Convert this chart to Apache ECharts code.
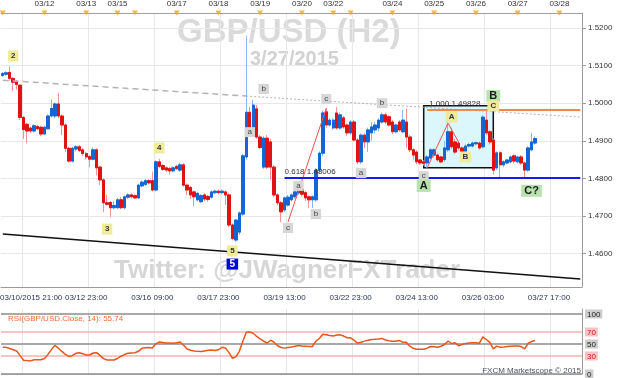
<!DOCTYPE html>
<html>
<head>
<meta charset="utf-8">
<title>GBP/USD H2</title>
<script src="https://cdn.jsdelivr.net/npm/echarts@6/dist/echarts.min.js"></script>
<style>
  html, body { margin: 0; padding: 0; background: #fff; }
  #chart { width: 623px; height: 378px; }
</style>
</head>
<body>
<div id="chart"></div>
<script>
// H2 candles, [open, close, low, high]
const candles = [
  [1.5074,1.5079,1.5070,1.5083],[1.5077,1.5081,1.5073,1.5085],[1.5082,1.5066,1.5060,1.5098],[1.5066,1.5056,1.5032,1.5070],
  [1.5058,1.5050,1.5036,1.5062],[1.5048,1.4962,1.4955,1.5050],[1.4962,1.4930,1.4905,1.4966],[1.4944,1.4926,1.4893,1.4948],
  [1.4934,1.4926,1.4920,1.4938],[1.4926,1.4940,1.4922,1.4944],[1.4938,1.4932,1.4928,1.4942],[1.4936,1.4918,1.4912,1.4940],
  [1.4918,1.4936,1.4915,1.4940],[1.4932,1.4966,1.4930,1.4970],[1.4966,1.4986,1.4962,1.5010],[1.4966,1.4998,1.4960,1.5002],
  [1.4998,1.4966,1.4960,1.5027],[1.4966,1.4942,1.4915,1.4970],[1.4942,1.4880,1.4870,1.4946],[1.4880,1.4846,1.4842,1.4884],
  [1.4846,1.4880,1.4842,1.4884],[1.4878,1.4884,1.4872,1.4888],[1.4884,1.4874,1.4870,1.4888],[1.4876,1.4866,1.4860,1.4880],
  [1.4866,1.4857,1.4850,1.4870],[1.4858,1.4851,1.4830,1.4862],[1.4851,1.4876,1.4848,1.4882],[1.4876,1.4828,1.4808,1.4880],
  [1.4830,1.4796,1.4782,1.4834],[1.4796,1.4735,1.4710,1.4800],[1.4735,1.4731,1.4728,1.4756],[1.4736,1.4722,1.4697,1.4740],
  [1.4722,1.4728,1.4718,1.4740],[1.4722,1.4743,1.4718,1.4748],[1.4743,1.4722,1.4718,1.4750],[1.4722,1.4751,1.4718,1.4755],
  [1.4750,1.4756,1.4745,1.4760],[1.4756,1.4751,1.4746,1.4760],[1.4754,1.4748,1.4745,1.4758],[1.4748,1.4782,1.4745,1.4786],
  [1.4780,1.4790,1.4776,1.4795],[1.4784,1.4794,1.4780,1.4798],[1.4794,1.4788,1.4784,1.4798],[1.4794,1.4769,1.4765,1.4818],
  [1.4769,1.4844,1.4765,1.4848],[1.4844,1.4832,1.4828,1.4852],[1.4834,1.4824,1.4820,1.4838],[1.4828,1.4822,1.4818,1.4832],
  [1.4826,1.4820,1.4810,1.4830],[1.4820,1.4828,1.4816,1.4832],[1.4832,1.4826,1.4822,1.4836],[1.4822,1.4836,1.4818,1.4842],
  [1.4836,1.4782,1.4778,1.4840],[1.4782,1.4769,1.4755,1.4786],[1.4776,1.4756,1.4745,1.4780],[1.4764,1.4751,1.4725,1.4768],
  [1.4743,1.4760,1.4738,1.4764],[1.4738,1.4754,1.4734,1.4758],[1.4756,1.4745,1.4740,1.4760],[1.4752,1.4744,1.4738,1.4756],
  [1.4750,1.4764,1.4746,1.4768],[1.4762,1.4766,1.4758,1.4770],[1.4766,1.4762,1.4758,1.4770],[1.4762,1.4766,1.4758,1.4770],
  [1.4764,1.4756,1.4729,1.4768],[1.4756,1.4676,1.4670,1.4760],[1.4676,1.4640,1.4635,1.4680],[1.4636,1.4689,1.4631,1.4692],
  [1.4657,1.4708,1.4650,1.4712],[1.4705,1.4860,1.4700,1.4865],[1.4857,1.4976,1.4850,1.5180],[1.4976,1.4936,1.4930,1.4990],
  [1.4936,1.4995,1.4930,1.5009],[1.4985,1.4910,1.4905,1.4995],[1.4910,1.4882,1.4878,1.4915],[1.4830,1.4907,1.4825,1.4912],
  [1.4907,1.4830,1.4825,1.4915],[1.4897,1.4830,1.4796,1.4905],[1.4830,1.4756,1.4750,1.4835],[1.4756,1.4735,1.4728,1.4760],
  [1.4735,1.4711,1.4684,1.4740],[1.4716,1.4748,1.4710,1.4752],[1.4729,1.4750,1.4725,1.4756],[1.4743,1.4756,1.4738,1.4760],
  [1.4751,1.4764,1.4745,1.4768],[1.4761,1.4772,1.4756,1.4776],[1.4771,1.4758,1.4752,1.4775],[1.4762,1.4748,1.4740,1.4766],
  [1.4751,1.4743,1.4721,1.4755],[1.4743,1.4751,1.4721,1.4755],[1.4743,1.4822,1.4738,1.4828],[1.4822,1.4867,1.4815,1.4872],
  [1.4867,1.4974,1.4860,1.4980],[1.4977,1.4942,1.4935,1.4987],[1.4942,1.4955,1.4938,1.4960],[1.4934,1.4955,1.4930,1.4960],
  [1.4974,1.4934,1.4930,1.4990],[1.4934,1.4969,1.4930,1.4975],[1.4961,1.4937,1.4932,1.4966],[1.4942,1.4921,1.4912,1.4946],
  [1.4921,1.4950,1.4915,1.4955],[1.4950,1.4902,1.4898,1.4955],[1.4902,1.4844,1.4838,1.4907],[1.4844,1.4915,1.4838,1.4920],
  [1.4915,1.4897,1.4880,1.4920],[1.4897,1.4929,1.4870,1.4935],[1.4921,1.4937,1.4900,1.4950],[1.4929,1.4942,1.4920,1.4950],
  [1.4934,1.4955,1.4925,1.4960],[1.4950,1.4969,1.4945,1.4975],[1.4969,1.4950,1.4945,1.4975],[1.4964,1.4942,1.4938,1.4968],
  [1.4950,1.4924,1.4918,1.4955],[1.4924,1.4942,1.4920,1.4946],[1.4950,1.4929,1.4924,1.4955],[1.4924,1.4955,1.4920,1.4982],
  [1.4950,1.4910,1.4880,1.4985],[1.4910,1.4876,1.4870,1.4915],[1.4876,1.4862,1.4850,1.4880],[1.4870,1.4844,1.4838,1.4875],
  [1.4849,1.4841,1.4836,1.4852],[1.4844,1.4840,1.4834,1.4848],[1.4841,1.4857,1.4828,1.4862],[1.4854,1.4876,1.4850,1.4880],
  [1.4862,1.4876,1.4855,1.4880],[1.4862,1.4849,1.4845,1.4866],[1.4857,1.4844,1.4840,1.4860],[1.4850,1.4881,1.4845,1.4900],
  [1.4876,1.4924,1.4870,1.4950],[1.4924,1.4884,1.4878,1.4935],[1.4897,1.4870,1.4865,1.4905],[1.4894,1.4881,1.4875,1.4900],
  [1.4881,1.4868,1.4862,1.4885],[1.4868,1.4886,1.4862,1.4890],[1.4886,1.4890,1.4882,1.4895],[1.4886,1.4894,1.4882,1.4898],
  [1.4892,1.4895,1.4888,1.4898],[1.4894,1.4881,1.4876,1.4898],[1.4884,1.4963,1.4880,1.4968],[1.4955,1.4921,1.4915,1.4983],
  [1.4924,1.4897,1.4890,1.4928],[1.4902,1.4822,1.4810,1.4906],[1.4828,1.4868,1.4822,1.4872],[1.4868,1.4836,1.4804,1.4872],
  [1.4836,1.4844,1.4830,1.4848],[1.4841,1.4849,1.4838,1.4852],[1.4844,1.4857,1.4840,1.4860],[1.4860,1.4846,1.4840,1.4864],
  [1.4844,1.4857,1.4840,1.4860],[1.4857,1.4841,1.4836,1.4862],[1.4841,1.4822,1.4798,1.4845],[1.4822,1.4881,1.4818,1.4885],
  [1.4876,1.4897,1.4872,1.4921],[1.4894,1.4906,1.4890,1.4912]
];

// RSI(14) per candle
const rsiValues = [
  44.4,44.4,42.5,40.3,38.3,30.6,23.0,22.3,21.8,23.8,23.9,23.7,25.7,32.7,40.7,47.7,43.0,37.6,32.7,29.2,
  30.6,34.5,35.4,33.6,31.7,31.7,35.0,35.5,30.7,25.6,23.3,23.3,23.3,25.9,29.6,32.4,34.5,35.0,35.4,37.8,
  42.8,43.6,44.3,43.2,50.3,53.4,52.4,51.8,51.5,51.1,52.0,53.3,47.8,41.7,39.6,38.5,37.7,37.5,38.5,39.4,
  39.8,39.2,40.4,44.4,43.3,36.0,26.3,28.6,37.7,54.0,69.5,69.9,67.9,62.5,58.5,54.6,51.6,56.3,52.9,47.0,
  44.1,43.1,44.1,45.0,46.2,47.6,46.8,46.3,45.7,45.8,54.7,59.2,66.3,65.5,64.2,63.4,65.1,65.2,63.2,60.4,
  60.2,56.1,51.5,52.8,54.8,56.1,57.6,57.8,58.3,59.3,56.6,55.4,54.5,54.5,55.9,52.8,52.7,46.4,42.8,41.1,
  41.1,41.2,43.0,45.8,45.4,44.7,46.3,49.2,55.0,50.8,52.1,47.2,49.1,50.7,51.8,52.2,52.2,51.4,62.0,57.5,
  52.7,41.8,46.4,44.4,45.0,45.7,46.3,46.7,46.7,45.7,41.8,50.8,54.2,55.7
];

const slotCount = 167;
const slots = Array.from({ length: slotCount }, (_, i) => String(i));

// bottom time labels
const timeIdx = [5, 24, 43, 62, 81, 100, 119, 138, 157];
const timeText = ['03/10/2015 21:00', '03/12 23:00', '03/16 09:00', '03/17 23:00', '03/19 13:00',
  '03/22 23:00', '03/24 13:00', '03/26 03:00', '03/27 17:00'];
// top day markers
const dayIdx = [0, 12, 24, 33, 38, 50, 62, 74, 86, 95, 100, 112, 124, 136, 148, 160];
const dayText = ['', '03/12', '03/13', '03/15', '', '03/17', '03/18', '03/19', '03/20', '03/22', '',
  '03/24', '03/25', '03/26', '03/27', '03/28'];
const dayMarkerPrice = 1.5240;

// wave labels: text, slot, price, kind
const waveText  = ['2', '3', '4', '5', '5', 'a', 'b', 'c', 'a', 'b', 'c', 'a', 'b', 'c', 'A', 'A', 'B', 'B', 'C', 'C?'];
const waveIdx   = [3, 30, 45, 66, 66, 71, 75, 82, 85, 90, 93, 103, 109, 121, 121, 129, 133, 141, 141, 152];
const wavePrice = [1.5126, 1.4665, 1.4881, 1.4607, 1.4572, 1.4923, 1.5038, 1.4668, 1.4780, 1.4705, 1.5011,
  1.4814, 1.5000, 1.4806, 1.4780, 1.4963, 1.4857, 1.5019, 1.4993, 1.4767];
const waveKind  = ['y', 'y', 'y', 'y', 'blue', 'g', 'g', 'g', 'g', 'g', 'g', 'g', 'g', 'g', 'G', 'y', 'y', 'G', 'y', 'G'];

// drawn lines: [slot1, price1, slot2, price2]
const trendDashed = [0, 1.5061, 70, 1.5019];
const trendDotted = [70, 1.5019, 166, 1.4963];
const supportLine = [0, 1.4652, 166, 1.4532];
const waveLines = [[82, 1.4684, 93, 1.4987], [122, 1.4828, 128, 1.4947], [128, 1.4947, 131, 1.4897]];
const fib618 = [81, 1.48006];
const fib100 = [122, 1.49828];
const boxArea = [121, 1.4993, 141, 1.4828];
const lastPrice = 1.49061;
const rsiLevels = [0, 30, 50, 70, 100];

const timeMap = {};
timeIdx.forEach((k, j) => { timeMap[k] = timeText[j]; });
const dayMap = {};
dayIdx.forEach((k, j) => { dayMap[k] = dayText[j]; });

const bodies = candles.map(c => [c[0], c[1], Math.min(c[0], c[1]), Math.max(c[0], c[1])]);

const kindStyle = {
  y: { backgroundColor: '#efeb9a', color: '#333', fontSize: 8, fontWeight: 'bold', padding: [2, 3, 1, 3] },
  g: { backgroundColor: '#d6d6d6', color: '#444', fontSize: 8, padding: [1, 3, 1, 3] },
  G: { backgroundColor: '#b6e2ad', color: '#1a1a1a', fontSize: 11, fontWeight: 'bold', padding: [1, 3, 0, 3] },
  blue: { backgroundColor: '#0000d8', color: '#fff', fontSize: 10, fontWeight: 'bold', padding: [1, 3, 0, 3] }
};

const seg = (a, style) => [
  { coord: [a[0], a[1]], lineStyle: style },
  { coord: [a[2], a[3]] }
];

const chart = echarts.init(document.getElementById('chart'), null, { renderer: 'canvas' });

const option = {
  animation: false,
  backgroundColor: '#fff',
  textStyle: { fontFamily: 'Liberation Sans, Arial, sans-serif' },
  title: {
    text: 'RSI(GBP/USD.Close, 14): 55.74',
    left: 3, top: 310,
    textStyle: { fontSize: 8, fontWeight: 'normal', color: '#ee6a3a' }
  },
  graphic: [
    { type: 'text', left: 177, top: 16, z: 0, style: { text: 'GBP/USD (H2)', font: 'bold 33px Liberation Sans, Arial', fill: '#dadada' } },
    { type: 'text', left: 250, top: 49, z: 0, style: { text: '3/27/2015', font: 'bold 20px Liberation Sans, Arial', fill: '#d2d2d2' } },
    { type: 'text', left: 114, top: 258, z: 0, style: { text: 'Twitter: @JWagnerFXTrader', font: 'bold 26px Liberation Sans, Arial', fill: '#d6d6d6' } },
    { type: 'text', right: 42, top: 367, z: 10, style: { text: 'FXCM Marketscope \u00a9 2015', font: '8px Liberation Sans, Arial', fill: '#4a5068' } }
  ],
  grid: [
    { left: 1, right: 41, top: 13, bottom: 91, containLabel: false, outerBoundsMode: 'none' },
    { left: 1, right: 41, top: 309, bottom: 4, containLabel: false, outerBoundsMode: 'none' }
  ],
  xAxis: [
    {
      type: 'category', gridIndex: 0, data: slots, position: 'bottom',
      axisLine: { lineStyle: { color: '#9a9a9a' } },
      axisTick: { interval: 1, length: 3, lineStyle: { color: '#9a9a9a' } },
      axisLabel: {
        interval: (i) => timeMap[i] !== undefined,
        formatter: (v) => Number(v) === 5 ? '{f|' + timeMap[5] + '}' : (timeMap[Number(v)] || ''),
        rich: { f: { fontSize: 8, color: '#2c3656', padding: [0, 0, 0, 22] } },
        fontSize: 8, color: '#2c3656', margin: 7
      },
      splitLine: { show: true, interval: (i) => i >= 6 && (i - 6) % 19 === 0, lineStyle: { color: '#e8e8e8' } }
    },
    {
      type: 'category', gridIndex: 0, data: slots, position: 'top',
      axisLine: { lineStyle: { color: '#a0a0a0' } },
      axisTick: { interval: 1, length: 3, lineStyle: { color: '#a0a0a0' } },
      axisLabel: {
        interval: (i) => !!dayMap[i],
        formatter: (v) => dayMap[Number(v)] || '',
        fontSize: 8, color: '#333', margin: 5
      },
      splitLine: { show: false }
    },
    {
      type: 'category', gridIndex: 1, data: slots, position: 'top',
      axisLine: { lineStyle: { color: '#d0d0d0' } },
      axisTick: { show: false },
      axisLabel: { show: false },
      splitLine: { show: true, interval: (i) => i >= 6 && (i - 6) % 19 === 0, lineStyle: { color: '#e8e8e8' } }
    }
  ],
  yAxis: [
    {
      type: 'value', gridIndex: 0, position: 'right', scale: true,
      min: 1.4511, max: 1.5240, splitNumber: 7,
      axisLine: { show: true, lineStyle: { color: '#9a9a9a' } },
      axisTick: { show: true, length: 4, lineStyle: { color: '#9a9a9a' } },
      axisLabel: { fontSize: 8, color: '#333', margin: 6, showMinLabel: false, showMaxLabel: false, formatter: (v) => v.toFixed(4) },
      splitLine: { show: true, lineStyle: { color: '#e8e8e8' } }
    },
    {
      type: 'value', gridIndex: 1, position: 'right', min: 0, max: 108.3,
      axisLine: { show: true, lineStyle: { color: '#9a9a9a' } },
      axisTick: { show: false },
      splitLine: { show: false },
      axisLabel: {
        customValues: rsiLevels, margin: 3, fontSize: 8,
        formatter: (v) => '{' + (v === 30 || v === 70 ? 'r' : 'g') + '|' + v + '}',
        rich: {
          r: { backgroundColor: '#f5c4c4', color: '#d01818', fontSize: 8, padding: [1, 2, 0, 2] },
          g: { backgroundColor: '#cdcdcd', color: '#222', fontSize: 8, padding: [1, 2, 0, 2] }
        }
      }
    }
  ],
  series: [
    {
      // marked box behind the candles
      type: 'line', xAxisIndex: 0, yAxisIndex: 0, data: [], z: 1, silent: true,
      markArea: {
        silent: true,
        itemStyle: { color: '#dcf7fc', borderColor: '#111', borderWidth: 1.5 },
        data: [[{ coord: [boxArea[0], boxArea[1]] }, { coord: [boxArea[2], boxArea[3]] }]]
      }
    },
    {
      // orange day markers on the top ruler
      type: 'scatter', xAxisIndex: 1, yAxisIndex: 0, z: 6, silent: true, clip: false,
      data: dayIdx.map(i => [i, dayMarkerPrice]),
      symbol: 'triangle', symbolRotate: 180, symbolSize: [6, 5], symbolOffset: [0, 0],
      itemStyle: { color: '#f5a21e' }
    },
    {
      // wicks
      type: 'candlestick', xAxisIndex: 0, yAxisIndex: 0, data: candles, barWidth: '85%', z: 3, silent: true,
      itemStyle: { color: '#8db6ec', color0: '#f29494', borderColor: '#8db6ec', borderColor0: '#f29494', borderWidth: 1 }
    },
    {
      // bodies
      type: 'candlestick', xAxisIndex: 0, yAxisIndex: 0, data: bodies, barWidth: '85%', z: 4, silent: true,
      itemStyle: { color: '#1466d2', color0: '#e01212', borderColor: '#1466d2', borderColor0: '#e01212', borderWidth: 1 },
      markLine: {
        silent: true, symbol: ['none', 'none'], animation: false,
        label: { show: false },
        data: [
          seg(trendDashed, { color: '#b4b4b4', width: 1.5, type: [6, 4] }),
          seg(trendDotted, { color: '#b4b4b4', width: 1, type: [2, 2] }),
          seg(supportLine, { color: '#111', width: 1.5, type: 'solid' }),
          ...waveLines.map(w => seg(w, { color: '#f05050', width: 1, type: 'solid' })),
          [
            { coord: [fib618[0], fib618[1]], lineStyle: { color: '#1a1aee', width: 2, type: 'solid' },
              label: { show: true, position: 'insideStartTop', formatter: '0.618 1.48006', fontSize: 8, color: '#333', distance: [0, 2] } },
            { coord: [slotCount - 1, fib618[1]] }
          ],
          [
            { coord: [fib100[0], fib100[1]], lineStyle: { color: '#f0884a', width: 2, type: 'solid' },
              label: { show: true, position: 'insideStartTop', formatter: '1.000 1.49828', fontSize: 8, color: '#333', distance: [2, 2] } },
            { coord: [slotCount - 1, fib100[1]] }
          ],
          {
            yAxis: lastPrice, lineStyle: { opacity: 0 },
            label: { show: true, position: 'end', distance: 2, formatter: '1.49061', fontSize: 8, color: '#222',
              backgroundColor: '#c6f0ff', borderColor: '#7ab4c8', borderWidth: 1, padding: [2, 2, 1, 2] }
          }
        ]
      },
      markPoint: {
        silent: true, animation: false,
        data: waveText.map((t, j) => ({
          coord: [waveIdx[j], wavePrice[j]],
          symbol: 'rect', symbolSize: 1, itemStyle: { color: 'transparent' },
          label: Object.assign({ show: true, position: 'inside', formatter: t }, kindStyle[waveKind[j]])
        }))
      }
    },
    {
      type: 'line', xAxisIndex: 2, yAxisIndex: 1, data: rsiValues, symbol: 'none', z: 5, silent: true,
      lineStyle: { color: '#e8561c', width: 1.5 },
      markLine: {
        silent: true, symbol: ['none', 'none'], label: { show: false },
        data: rsiLevels.map(v => ({
          yAxis: v,
          lineStyle: { color: (v === 30 || v === 70) ? '#f4b4b4' : '#8c8c8c', width: 1.5, type: 'solid' }
        }))
      }
    }
  ]
};

chart.setOption(option);
</script>
</body>
</html>
